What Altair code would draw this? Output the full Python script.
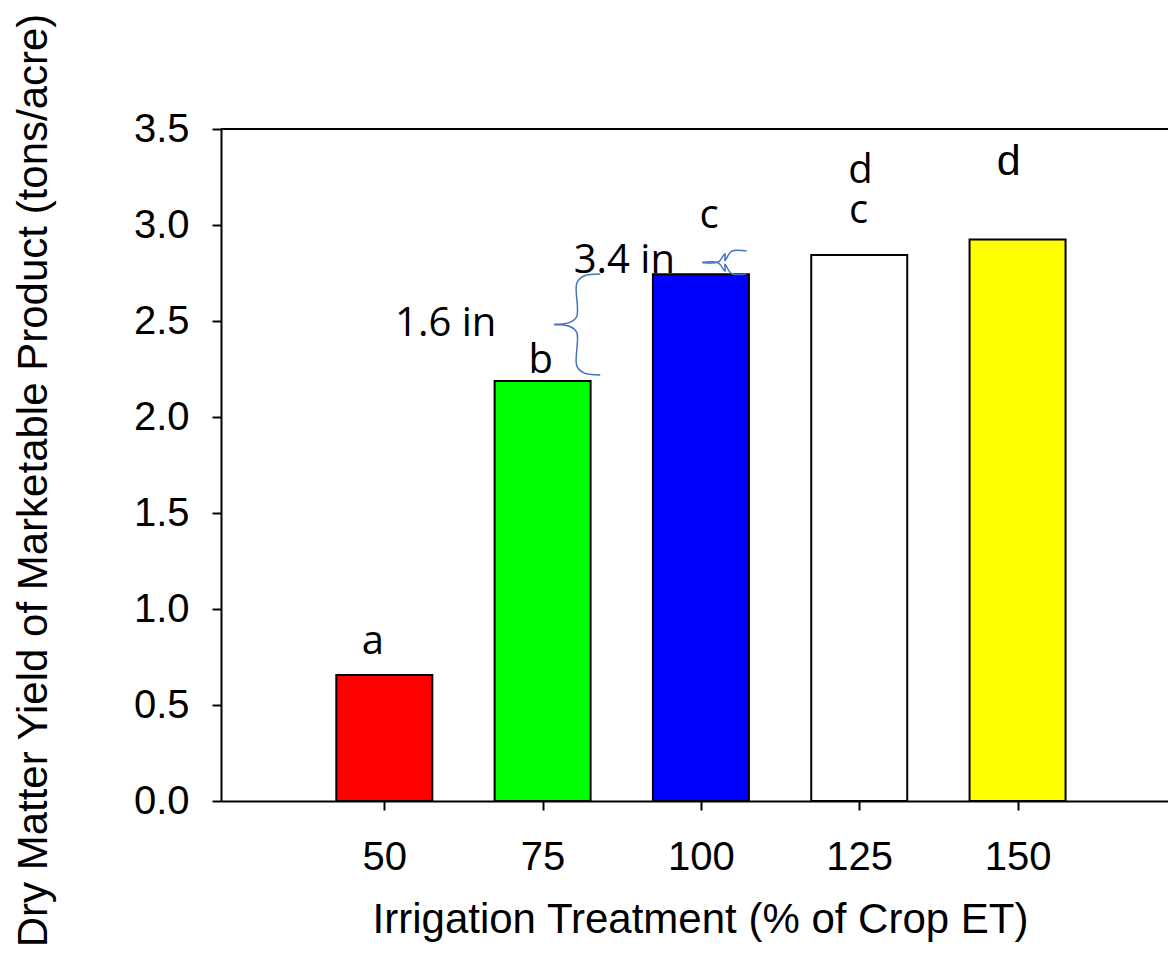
import altair as alt
import pandas as pd

# ---- data ----
treatments = [50, 75, 100, 125, 150]
yields = [0.656, 2.187, 2.743, 2.844, 2.925]
bar_colors = ["#FF0000", "#00FF00", "#0000FF", "#FFFFFF", "#FFFF00"]

# significance letters and annotations (text, x in % ET, y in tons/acre)
note_text = ["a", "b", "c", "c", "d", "3.4 in", "1.6 in"]
note_x = [48.2, 74.7, 101.3, 124.9, 125.2, 87.9, 59.7]
note_y = [0.766, 2.229, 2.984, 3.010, 3.219, 2.750, 2.422]

# the last letter is set in a different typeface
arial_text = ["d"]
arial_x = [148.6]
arial_y = [3.260]

# braces: (x of ends, x of stem, x of tip, y bottom, y top, curve fraction)
brace_x_end = [84.1, 107.2]
brace_x_stem = [80.4, 103.8]
brace_x_tip = [76.8, 100.2]
brace_y0 = [2.219, 2.745]
brace_y1 = [2.745, 2.865]
brace_curve = [0.09, 0.42]

W, H = 947, 672
X_MIN = 25
X_MAX = X_MIN + W / 6.4

bars = pd.DataFrame({"t": treatments, "y": yields, "c": bar_colors})
notes = pd.DataFrame({"text": note_text, "x": note_x, "y": note_y})
arial_notes = pd.DataFrame({"text": arial_text, "x": arial_x, "y": arial_y})


def brace_points(i, xe, xs, xt, y0, y1, c):
    h = y1 - y0
    ym = (y0 + y1) / 2
    rows = []
    for half, sgn, yend in (("u", 1, y1), ("l", -1, y0)):
        pts = [
            (xe, yend),
            (xs + 0.3 * (xe - xs), yend - sgn * 0.02 * h),
            (xs, yend - sgn * c * h),
            (xs, ym + sgn * c * h * 0.9),
            (xs - 0.3 * (xs - xt), ym + sgn * 0.02 * h),
            (xt, ym),
        ]
        for k, (px, py) in enumerate(pts):
            rows.append({"part": f"{i}{half}", "o": k, "x": px, "y": py})
    return rows


brace_rows = []
for i in range(len(brace_x_end)):
    brace_rows += brace_points(i, brace_x_end[i], brace_x_stem[i], brace_x_tip[i],
                               brace_y0[i], brace_y1[i], brace_curve[i])
braces = pd.DataFrame(brace_rows)

xscale = alt.Scale(domain=[X_MIN, X_MAX], nice=False, zero=False)
yscale = alt.Scale(domain=[0, 3.5], nice=False)

xaxis = alt.Axis(
    values=treatments, title="Irrigation Treatment (% of Crop ET)",
    labelFontSize=40, titleFontSize=42, labelFont="Liberation Sans", titleFont="Liberation Sans",
    labelColor="black", titleColor="black", titleFontWeight="normal",
    tickSize=9, tickWidth=2, tickColor="black", domainColor="black", domainWidth=2,
    labelBaseline="alphabetic", labelPadding=59, grid=False,
    titleX=479, titleY=131, titleBaseline="alphabetic", titleAlign="center",
)
yaxis = alt.Axis(
    values=[0, 0.5, 1, 1.5, 2, 2.5, 3, 3.5], format=".1f",
    title="Dry Matter Yield of Marketable Product (tons/acre)",
    labelFontSize=40, titleFontSize=42, labelFont="Liberation Sans", titleFont="Liberation Sans",
    labelColor="black", titleColor="black", titleFontWeight="normal",
    tickSize=9, tickWidth=2, tickColor="black", domainColor="black", domainWidth=2,
    labelPadding=23, grid=False,
    titleX=-188, titleY=351, titleBaseline="middle", titleAlign="center", titleAngle=270,
)

bar_layer = alt.Chart(bars).mark_bar(size=96, stroke="black", strokeWidth=2).encode(
    x=alt.X("t:Q", scale=xscale, axis=xaxis),
    y=alt.Y("y:Q", scale=yscale, axis=yaxis),
    color=alt.Color("c:N", scale=None),
)

top_line = alt.Chart(bars).mark_rule(color="black", strokeWidth=2).encode(
    x=alt.value(0), x2=alt.value(W), y=alt.value(0)
)

text_layer = alt.Chart(notes).mark_text(
    fontSize=40, baseline="alphabetic", align="center", color="black", font="Open Sans"
).encode(
    x=alt.X("x:Q", scale=xscale),
    y=alt.Y("y:Q", scale=yscale),
    text="text:N",
)

arial_layer = alt.Chart(arial_notes).mark_text(
    fontSize=43, baseline="alphabetic", align="center", color="black", font="Liberation Sans"
).encode(
    x=alt.X("x:Q", scale=xscale),
    y=alt.Y("y:Q", scale=yscale),
    text="text:N",
)

brace_layer = alt.Chart(braces).mark_line(
    color="#4472C4", strokeWidth=1.5, interpolate="catmull-rom"
).encode(
    x=alt.X("x:Q", scale=xscale),
    y=alt.Y("y:Q", scale=yscale),
    detail="part:N",
    order="o:Q",
)

chart = alt.layer(bar_layer, top_line, brace_layer, text_layer, arial_layer).properties(
    width=W, height=H,
    autosize=alt.AutoSizeParams(type="none"),
    padding={"left": 221, "top": 129, "right": 0, "bottom": 152},
    background="white",
).configure_view(stroke=None)

chart.save("out.html", embed_options={"renderer": "svg", "actions": False})
